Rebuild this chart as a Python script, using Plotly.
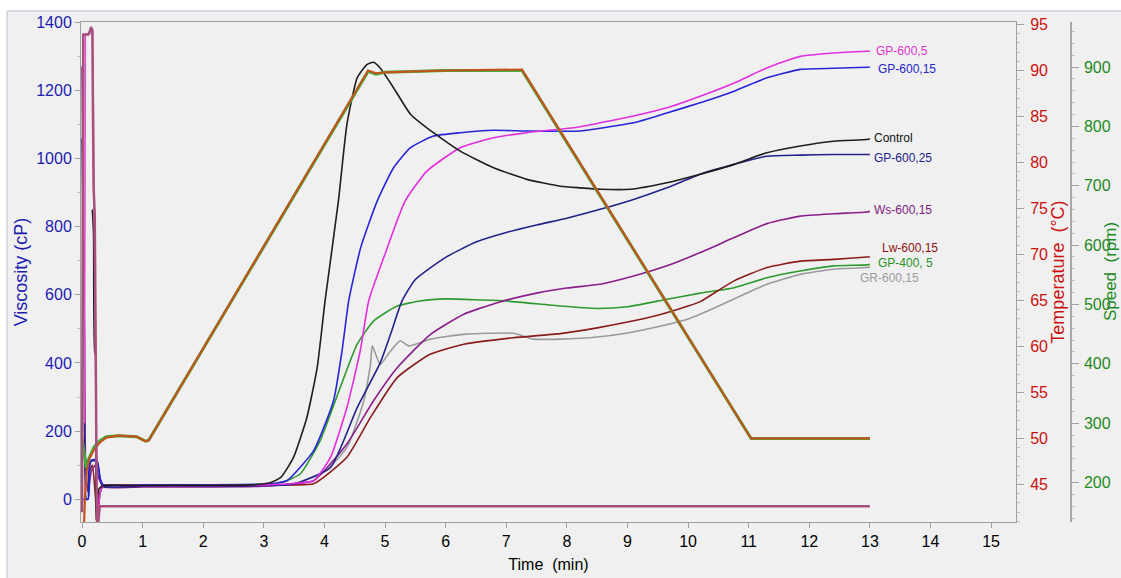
import plotly.graph_objects as go

# ---------------- viscosity curves (cP) vs time (min) ----------------
t_control = [0.17, 0.19, 0.21, 0.22, 0.23, 0.28, 0.35, 1.0, 2.0, 2.8, 3.1, 3.28, 3.49, 3.71, 3.88, 4.01, 4.23, 4.37,
             4.54, 4.70, 4.81, 4.92, 5.14, 5.42, 5.69, 6.24, 6.79, 7.34, 7.89, 8.22, 8.55, 9.05, 9.65, 10.2, 10.76,
             11.3, 11.85, 12.4, 12.95, 13.0]
v_control = [850, 780, 430, 430, -60, 30, 40, 40, 41, 42, 48, 64, 123, 240, 386, 582, 875, 1100,
             1237, 1276, 1283, 1266, 1208, 1130, 1090, 1022, 973, 939, 919, 914, 910, 910, 929, 954, 983,
             1017, 1037, 1051, 1056, 1058]

t_gp600_5 = [0.25, 0.3, 0.35, 1.0, 2.0, 3.0, 3.5, 3.82, 4.1, 4.37, 4.59, 4.73, 5.0, 5.33, 5.69, 6.24, 6.79, 7.34,
             8.17, 8.55, 9.1, 9.65, 10.2, 10.76, 11.3, 11.85, 12.4, 12.95, 13.0]
v_gp600_5 = [-60, 20, 40, 40, 40, 42, 46, 54, 123, 269, 435, 582, 720, 875, 963, 1032, 1061, 1076,
             1092, 1105, 1125, 1149, 1183, 1222, 1266, 1300, 1310, 1315, 1315]

t_gp600_15 = [0.0, 0.1, 0.13, 0.16, 0.24, 0.3, 0.35, 1.0, 2.0, 3.0, 3.2, 3.38, 3.82, 4.15, 4.29, 4.4, 4.6, 4.87,
              5.14, 5.42, 5.8, 6.24, 6.79, 7.34, 8.22, 8.55, 9.1, 9.65, 10.2, 10.76, 11.3, 11.85, 12.4, 12.95, 13.0]
v_gp600_15 = [0, 0, 100, 115, 115, 60, 42, 42, 42, 44, 47, 54, 142, 289, 435, 582, 740, 875,
              973, 1032, 1066, 1076, 1083, 1081, 1081, 1089, 1105, 1134, 1164, 1198, 1237, 1262, 1265, 1268, 1268]

t_gp600_25 = [0.0, 0.04, 0.07, 0.1, 0.13, 0.25, 0.3, 0.35, 1.0, 2.0, 3.0, 3.5, 4.1, 4.54, 4.92, 5.09, 5.28, 5.5,
              6.0, 6.5, 7.0, 7.5, 8.0, 8.55, 9.1, 9.65, 10.2, 10.76, 11.3, 11.85, 12.4, 12.95, 13.0]
v_gp600_25 = [1060, 500, 0, 0, 110, 112, 60, 38, 38, 38, 40, 45, 93, 269, 400, 484, 582, 645,
              710, 755, 783, 805, 825, 851, 880, 914, 954, 983, 1007, 1010, 1012, 1012, 1012]

t_ws600_15 = [0.0, 0.03, 0.06, 0.1, 0.15, 0.22, 0.28, 0.35, 1.0, 2.0, 3.0, 3.4, 3.82, 4.37, 4.81, 5.2, 5.75, 6.3,
              6.85, 7.5, 8.0, 8.55, 9.1, 9.65, 10.2, 10.76, 11.3, 11.85, 12.4, 12.95, 13.0]
v_ws600_15 = [1270, 700, 100, 20, 80, 100, 60, 36, 36, 36, 38, 44, 54, 162, 289, 386, 484, 543,
              577, 605, 620, 631, 655, 685, 724, 768, 809, 831, 838, 843, 845]

t_lw600_15 = [0.12, 0.17, 0.22, 0.25, 0.3, 0.35, 1.0, 2.0, 3.0, 3.4, 3.82, 4.37, 4.76, 5.2, 5.75, 6.3, 7.12, 7.89,
              8.5, 9.0, 9.5, 10.0, 10.2, 10.76, 11.3, 11.85, 12.4, 12.95, 13.0]
v_lw600_15 = [80, 100, 10, -65, 20, 40, 40, 40, 40, 42, 45, 123, 240, 357, 426, 455, 474, 486,
              503, 520, 540, 567, 580, 641, 680, 699, 704, 711, 712]

t_gp400_5 = [0.3, 0.35, 1.0, 2.0, 3.0, 3.3, 3.6, 3.93, 4.26, 4.54, 4.81, 5.2, 5.58, 6.0, 6.57, 7.0, 7.89, 8.5,
             9.0, 9.65, 10.2, 10.76, 11.3, 11.85, 12.4, 12.95, 13.0]
v_gp400_5 = [20, 40, 40, 40, 42, 50, 74, 172, 328, 455, 523, 567, 582, 588, 585, 582, 567, 560,
             565, 587, 605, 621, 650, 670, 685, 688, 690]

t_gr600_15 = [0.3, 0.35, 1.0, 2.0, 3.0, 3.5, 4.0, 4.37, 4.65, 4.76, 4.79, 4.92, 5.09, 5.25, 5.39, 5.75, 6.3, 7.12,
              7.45, 7.89, 8.5, 9.0, 9.5, 10.0, 10.48, 11.3, 11.85, 12.4, 12.95, 13.0]
v_gr600_15 = [20, 40, 40, 40, 41, 45, 80, 152, 289, 396, 450, 396, 435, 465, 450, 470, 484, 487,
              470, 470, 476, 488, 506, 529, 565, 631, 660, 675, 680, 682]

# ---------------- temperature profile (°C) ----------------
t_temp_a = [0.03, 0.05, 0.08, 0.12, 0.2, 0.3, 0.4, 0.6, 0.9, 1.05, 1.1, 4.72, 4.85, 5.0, 6.0, 7.26, 11.04, 13.0]
temp_a = [40.0, 44.0, 46.5, 47.8, 48.8, 49.6, 50.1, 50.3, 50.2, 49.7, 49.8, 90.0, 89.7, 89.8, 90.0, 90.1, 50.0, 50.0]

t_temp_b = [0.0, 0.04, 0.07, 0.1, 0.15, 0.2, 0.3, 0.4, 0.6, 0.9, 1.05, 1.1, 4.72, 4.85, 5.0, 6.0, 7.26, 11.04, 13.0]
temp_b = [50.0, 48.0, 46.8, 47.6, 48.4, 49.1, 49.8, 50.2, 50.3, 50.2, 49.7, 49.8, 89.9, 89.6, 89.8, 90.0, 90.0, 50.0, 50.0]

# ---------------- paddle speed (rpm) ----------------
t_speed_a = [0.0, 0.01, 0.02, 0.1, 0.12, 0.15, 0.17, 0.19, 0.21, 0.245, 0.26, 0.29, 13.0]
speed_a = [150, 600, 955, 955, 958, 967, 962, 700, 650, 140, 120, 160, 160]

t_speed_b = [0.04, 0.055, 0.12, 0.15, 0.175, 0.25, 0.27, 0.3, 13.0]
speed_b = [300, 955, 955, 968, 960, 100, 140, 160, 160]

# series name, times, values, colour
samples = [
    ("GR-600,15", t_gr600_15, v_gr600_15, "#9a9a9a"),
    ("GP-400, 5", t_gp400_5, v_gp400_5, "#2e9a2e"),
    ("Lw-600,15", t_lw600_15, v_lw600_15, "#8b1c1c"),
    ("Ws-600,15", t_ws600_15, v_ws600_15, "#8a1e8a"),
    ("GP-600,25", t_gp600_25, v_gp600_25, "#22228a"),
    ("GP-600,15", t_gp600_15, v_gp600_15, "#2626d6"),
    ("GP-600,5", t_gp600_5, v_gp600_5, "#e22ee0"),
    ("Control", t_control, v_control, "#1e1e1e"),
]

# end-of-curve label positions (time, viscosity) and label colours
label_names = ["GP-600,5", "GP-600,15", "Control", "GP-600,25", "Ws-600,15", "Lw-600,15", "GP-400, 5", "GR-600,15"]
label_t = [13.07, 13.10, 13.04, 13.04, 13.04, 13.16, 13.10, 12.81]
label_v = [1315, 1262, 1060, 1002, 850, 737, 694, 649]
label_colors = ["#e030d0", "#2626c8", "#111111", "#22228a", "#7e1a7e", "#8b1010", "#269626", "#9a9a9a"]

fig = go.Figure()

# temperature (behind everything else)
fig.add_trace(go.Scatter(x=t_temp_b, y=temp_b, yaxis="y2", mode="lines",
                         line=dict(color="#3fae3f", width=3), hoverinfo="skip"))
fig.add_trace(go.Scatter(x=t_temp_a, y=temp_a, yaxis="y2", mode="lines",
                         line=dict(color="#c2541c", width=2.2), hoverinfo="skip"))

# paddle speed
fig.add_trace(go.Scatter(x=t_speed_b, y=speed_b, yaxis="y3", mode="lines",
                         line=dict(color="#e050cc", width=1.6), hoverinfo="skip"))
fig.add_trace(go.Scatter(x=t_speed_a, y=speed_a, yaxis="y3", mode="lines",
                         line=dict(color="#a8507c", width=2.5), hoverinfo="skip"))

# viscosity
for name, t, v, c in samples:
    fig.add_trace(go.Scatter(x=t, y=v, mode="lines", name=name,
                             line=dict(color=c, width=1.6, shape="spline", smoothing=0.5)))

for name, tx, vy, c in zip(label_names, label_t, label_v, label_colors):
    fig.add_annotation(x=tx, y=vy, xref="x", yref="y", text=name, showarrow=False,
                       xanchor="left", yanchor="middle",
                       font=dict(family="Liberation Sans", size=12, color=c))

FONT = "Liberation Sans, Arial, sans-serif"
AXIS_LINE = "#a0a0a0"

# speed axis title placed at the right edge of the panel
fig.add_annotation(x=1.0395, y=0.5, xref="paper", yref="paper", text="Speed\u00a0 (rpm)",
                   textangle=-90, showarrow=False, xanchor="center", yanchor="middle",
                   font=dict(family=FONT, size=17, color="#1e8a1e"))

fig.update_layout(
    width=1121, height=578,
    margin=dict(l=81, r=50, t=22, b=56),
    paper_bgcolor="#ffffff",
    plot_bgcolor="#f0f0f0",
    showlegend=False,
    font=dict(family=FONT, size=16, color="#000000"),
    xaxis=dict(
        domain=[0, 0.9444], range=[-0.017, 15.41],
        tick0=0, dtick=1, ticks="outside", ticklen=5, tickcolor=AXIS_LINE,
        showline=True, linecolor=AXIS_LINE, linewidth=1, mirror=True,
        showgrid=False, zeroline=False, automargin=False,
        tickfont=dict(size=16, color="#000000"),
        title=dict(text="Time\u00a0 (min)", font=dict(size=16, color="#000000"), standoff=9),
    ),
    yaxis=dict(
        range=[-67, 1401], tick0=0, dtick=200,
        ticks="outside", ticklen=5, tickcolor=AXIS_LINE,
        minor=dict(dtick=100, ticklen=3, ticks="outside", tickcolor="#c0c0c0"),
        showline=True, linecolor=AXIS_LINE, linewidth=1,
        showgrid=False, zeroline=False, automargin=False,
        tickfont=dict(size=16, color="#1c1cb0"),
        title=dict(text="Viscosity (cP)", font=dict(size=18, color="#1c1cb0"), standoff=3),
    ),
    yaxis2=dict(
        overlaying="y", side="right", anchor="x",
        range=[40.92, 95.27], tick0=0, dtick=5,
        ticks="outside", ticklen=7, tickcolor=AXIS_LINE, ticklabelstandoff=3,
        minor=dict(dtick=1, ticklen=3, ticks="outside", tickcolor="#c0c0c0"),
        showline=True, linecolor=AXIS_LINE, linewidth=1,
        showgrid=False, zeroline=False, automargin=False,
        tickfont=dict(size=16, color="#cc1010"),
        title=dict(text="Temperature\u00a0 (°C)", font=dict(size=18, color="#cc1010"), standoff=4),
    ),
    yaxis3=dict(
        overlaying="y", side="right", anchor="free", position=1.0,
        range=[133.4, 975.9], tick0=0, dtick=100,
        ticks="outside", ticklen=7, tickcolor=AXIS_LINE, ticklabelstandoff=2,
        minor=dict(dtick=20, ticklen=3, ticks="outside", tickcolor="#c0c0c0"),
        showline=True, linecolor="#a8a8a8", linewidth=1.5,
        showgrid=False, zeroline=False, automargin=False,
        tickfont=dict(size=16, color="#1e8a1e"),
    ),
)

# outer panel frame around the whole chart
fig.add_shape(type="rect", xref="paper", yref="paper",
              x0=-0.0747, x1=1.2, y0=-0.3, y1=1.022,
              line=dict(color="#b6c0d0", width=1), fillcolor="#f0f0f0", layer="below")

fig.write_html("out.html")
